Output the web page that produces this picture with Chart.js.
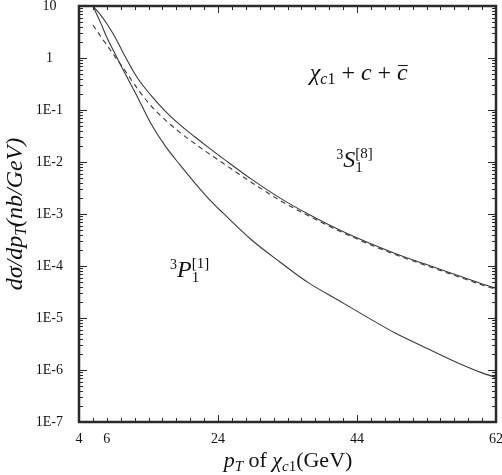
<!DOCTYPE html>
<html>
<head>
<meta charset="utf-8">
<script src="https://cdn.jsdelivr.net/npm/chart.js@4/dist/chart.umd.min.js"></script>
<style>
  html, body { margin: 0; padding: 0; background: #fff; }
</style>
</head>
<body>
<canvas id="myChart" width="502" height="475"></canvas>
<script>
// pT points (GeV)
const pT = [6.0, 7.1, 8.1, 9.2, 10.2, 12.3, 14.3, 16.4, 18.5, 20.6, 22.6, 24.7, 28.8, 33.0, 37.1, 41.2, 45.4, 49.5, 53.7, 57.8, 61.9, 64];
// upper solid curve (total)
const sumaCalosc = [10, 6.76, 4.37, 2.51, 1.38, 0.437, 0.195, 0.0955, 0.0525, 0.0309, 0.0191, 0.01175, 0.00468, 0.0020, 9.77e-4, 5.13e-4, 2.88e-4, 1.74e-4, 1.10e-4, 7.08e-5, 4.57e-5, 3.72e-5];
// dashed curve 3S1[8]
const oktet = [4.32, 2.63, 1.70, 1.05, 0.692, 0.269, 0.123, 0.0646, 0.0372, 0.0229, 0.0148, 0.00955, 0.00407, 0.0018, 9.12e-4, 4.88e-4, 2.75e-4, 1.66e-4, 1.05e-4, 6.76e-5, 4.37e-5, 3.55e-5];
// lower solid curve 3P1[1]
const singlet = [10, 4.79, 2.34, 1.20, 0.646, 0.191, 0.0562, 0.0204, 0.00891, 0.00407, 0.0020, 0.00105, 3.2e-4, 1.17e-4, 4.68e-5, 2.24e-5, 1.05e-5, 5.13e-6, 2.75e-6, 1.51e-6, 8.9e-7, 7.2e-7];

const xTickLabels = { 4: '4', 8: '6', 24: '24', 44: '44', 64: '62' };
const yDecades = [1e-7, 1e-6, 1e-5, 1e-4, 1e-3, 1e-2, 1e-1, 1, 10];
const yTickLabels = ['1E-7', '1E-6', '1E-5', '1E-4', '1E-3', '1E-2', '1E-1', '1', '10'];

const FONT = '"Liberation Serif", "Times New Roman", serif';
const KOLOR = '#2a2a2a';

// text pieces: t, it (italic), s (size), dy, stay (no advance)
function szerokosc(ctx, parts) {
    let w = 0;
    parts.forEach(p => {
        ctx.font = (p.it ? 'italic ' : '') + p.s + 'px ' + FONT;
        if (!p.stay) w += ctx.measureText(p.t).width;
    });
    return w;
}
function rysujTekst(ctx, parts, x, y) {
    parts.forEach(p => {
        ctx.font = (p.it ? 'italic ' : '') + p.s + 'px ' + FONT;
        ctx.fillText(p.t, x, y + (p.dy || 0));
        const w = ctx.measureText(p.t).width;
        if (p.bar) {
            ctx.fillRect(x + 1, y - p.s * 0.62, w - 1, 1);
        }
        if (!p.stay) x += w;
    });
}

const opisy = [
    { x: 37.2, y: 0.38, parts: [
        { t: 'χ', it: true, s: 24 }, { t: 'c', it: true, s: 16, dy: 4 }, { t: '1', s: 16, dy: 4 },
        { t: ' + ', s: 24 }, { t: 'c', it: true, s: 24 }, { t: ' + ', s: 24 }, { t: 'c', it: true, s: 24, bar: true }] },
    { x: 41.0, y: 0.008, parts: [
        { t: '3', s: 14, dy: -8 }, { t: 'S', it: true, s: 24 }, { t: '1', s: 15, dy: 5, stay: true }, { t: '[8]', s: 15, dy: -9 }] },
    { x: 17.1, y: 6.2e-5, parts: [
        { t: '3', s: 14, dy: -8 }, { t: 'P', it: true, s: 24 }, { t: '1', s: 15, dy: 5, stay: true }, { t: '[1]', s: 15, dy: -9 }] }
];

const ramkaPlugin = {
    id: 'ramka',
    afterDatasetsDraw(chart) {
        const { ctx, chartArea: a, scales: { x, y } } = chart;
        ctx.save();
        ctx.strokeStyle = KOLOR;
        ctx.lineWidth = 1;
        ctx.beginPath();
        // x ticks on bottom and top
        for (let v = 4; v <= 64; v += 2) {
            const px = Math.round(x.getPixelForValue(v)) + 0.5;
            const len = (v - 4) % 20 === 0 ? 7 : 4;
            ctx.moveTo(px, a.bottom); ctx.lineTo(px, a.bottom - len);
            ctx.moveTo(px, a.top); ctx.lineTo(px, a.top + len);
        }
        // log ticks on left and right
        yDecades.forEach(d => {
            for (let k = 1; k <= 9; k++) {
                const v = d * k;
                if (v > 10.0001) break;
                const py = Math.round(y.getPixelForValue(v)) + 0.5;
                const len = k === 1 ? 8 : 4;
                ctx.moveTo(a.left, py); ctx.lineTo(a.left + len, py);
                ctx.moveTo(a.right, py); ctx.lineTo(a.right - len, py);
            }
        });
        ctx.stroke();
        ctx.lineWidth = 2.5;
        ctx.strokeRect(a.left, a.top, a.right - a.left, a.bottom - a.top);

        // annotations
        ctx.fillStyle = '#111';
        ctx.textBaseline = 'alphabetic';
        ctx.textAlign = 'left';
        opisy.forEach(o => {
            rysujTekst(ctx, o.parts, x.getPixelForValue(o.x), y.getPixelForValue(o.y));
        });

        // x axis title
        const tytulX = [{ t: 'p', it: true, s: 22 }, { t: 'T', it: true, s: 15, dy: 4 }, { t: ' of ', s: 22 },
            { t: 'χ', it: true, s: 22 }, { t: 'c', it: true, s: 15, dy: 4 }, { t: '1', s: 15, dy: 4 }, { t: '(GeV)', s: 22 }];
        const wx = szerokosc(ctx, tytulX);
        rysujTekst(ctx, tytulX, 288 - wx / 2, 467);

        // y axis title
        const tytulY = [{ t: 'dσ/dp', it: true, s: 24 }, { t: 'T', it: true, s: 16, dy: 4 }, { t: '(nb/GeV)', it: true, s: 24 }];
        const wy = szerokosc(ctx, tytulY);
        ctx.translate(22, 214);
        ctx.rotate(-Math.PI / 2);
        rysujTekst(ctx, tytulY, -wy / 2, 0);
        ctx.restore();
    }
};

document.addEventListener('DOMContentLoaded', function() {
    const ctx = document.getElementById('myChart').getContext('2d');

    const zbiory = [
        { label: 'total', values: sumaCalosc, dash: [] },
        { label: '3S1[8]', values: oktet, dash: [5, 4] },
        { label: '3P1[1]', values: singlet, dash: [] }
    ];

    const data = {
        datasets: zbiory.map(z => ({
            label: z.label,
            data: pT.map((p, i) => ({ x: p, y: z.values[i] })),
            borderColor: '#3a3a3a',
            borderWidth: 1.1,
            borderDash: z.dash,
            pointRadius: 0,
            fill: false,
            cubicInterpolationMode: 'monotone'
        }))
    };

    const options = {
        responsive: false,
        animation: false,
        layout: { padding: { top: 6, right: 6, left: 0, bottom: 0 } },
        plugins: { legend: { display: false }, tooltip: { enabled: false } },
        scales: {
            x: {
                type: 'linear',
                min: 4,
                max: 64,
                grid: { display: false, drawTicks: false },
                border: { display: false },
                afterBuildTicks: s => { s.ticks = Object.keys(xTickLabels).map(v => ({ value: Number(v) })); },
                afterFit: s => { s.height = 53; s.paddingLeft = 0; s.paddingRight = 0; },
                ticks: {
                    autoSkip: false,
                    maxRotation: 0,
                    padding: 9,
                    color: '#111',
                    font: { family: FONT, size: 14 },
                    callback: v => xTickLabels[v] || ''
                }
            },
            y: {
                type: 'logarithmic',
                min: 1e-7,
                max: 10,
                grid: { display: false, drawTicks: false },
                border: { display: false },
                afterBuildTicks: s => { s.ticks = yDecades.map(v => ({ value: v })); },
                afterFit: s => { s.width = 79; s.paddingTop = 0; s.paddingBottom = 0; },
                ticks: {
                    autoSkip: false,
                    crossAlign: 'center',
                    padding: 16,
                    color: '#111',
                    font: { family: FONT, size: 14 },
                    callback: (v) => {
                        const i = yDecades.findIndex(d => Math.abs(d - v) / d < 1e-6);
                        return i >= 0 ? yTickLabels[i] : '';
                    }
                }
            }
        }
    };

    new Chart(ctx, {
        type: 'line',
        data: data,
        options: options,
        plugins: [ramkaPlugin]
    });
});
</script>
</body>
</html>
